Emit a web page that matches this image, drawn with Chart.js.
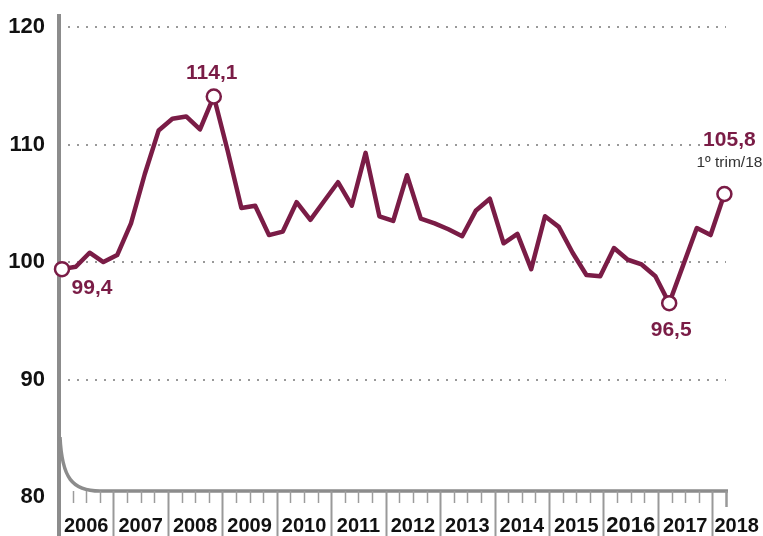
<!DOCTYPE html>
<html>
<head>
<meta charset="utf-8">
<script src="https://cdn.jsdelivr.net/npm/chart.js@4.4.1/dist/chart.umd.min.js"></script>
<style>
  html, body { margin: 0; padding: 0; background: #fff; }
  #wrap { width: 763px; height: 536px; position: relative; }
</style>
</head>
<body>
<div id="wrap"><canvas id="myChart"></canvas></div>
<script>
// trimestres 2006 T1 -> 2018 T1
var trimestres = [
  '1T06','2T06','3T06','4T06','1T07','2T07','3T07','4T07','1T08','2T08','3T08','4T08',
  '1T09','2T09','3T09','4T09','1T10','2T10','3T10','4T10','1T11','2T11','3T11','4T11',
  '1T12','2T12','3T12','4T12','1T13','2T13','3T13','4T13','1T14','2T14','3T14','4T14',
  '1T15','2T15','3T15','4T15','1T16','2T16','3T16','4T16','1T17','2T17','3T17','4T17','1T18'
];
var valores = [
  99.4, 99.6, 100.8, 100.0, 100.6, 103.3, 107.5, 111.2, 112.2, 112.4, 111.3, 114.1,
  109.5, 104.6, 104.8, 102.3, 102.6, 105.1, 103.6, 105.2, 106.8, 104.8, 109.3, 103.9,
  103.5, 107.4, 103.7, 103.3, 102.8, 102.2, 104.4, 105.4, 101.6, 102.4, 99.4, 103.9,
  103.0, 100.8, 98.9, 98.8, 101.2, 100.2, 99.8, 98.8, 96.5, 99.7, 102.9, 102.3, 105.8
];
var anos = ['2006','2007','2008','2009','2010','2011','2012','2013','2014','2015','2016','2017','2018'];
var ticksY = [80, 90, 100, 110, 120];
var destaques = [0, 11, 44, 48];
var rotulos = ['99,4', '114,1', '96,5', '105,8'];

var vinho = '#7a1c46';
var cinza = '#8c8c8c';
var fonte = "'Liberation Sans', Arial, sans-serif";

var pontos = [];
for (var i = 0; i < valores.length; i++) {
  pontos.push({x: i, y: valores[i]});
}

var decor = {
  id: 'decor',
  beforeDatasetsDraw: function(chart) {
    var ctx = chart.ctx, a = chart.chartArea, xq = chart.scales.xq;
    var base = a.bottom - 6;
    ctx.save();
    ctx.strokeStyle = cinza;
    ctx.lineWidth = 4;
    ctx.beginPath();
    ctx.moveTo(a.left, 14);
    ctx.lineTo(a.left, chart.height);
    ctx.stroke();
    // curva + linha de base
    ctx.lineWidth = 3.5;
    ctx.beginPath();
    ctx.moveTo(a.left + 1, base - 54);
    ctx.bezierCurveTo(a.left + 3, base - 13, a.left + 13, base, a.left + 41, base);
    ctx.lineTo(a.right + 2, base);
    ctx.stroke();
    // marcas dos trimestres
    for (var k = 1; k <= 49; k++) {
      var x = Math.round(xq.getPixelForValue(k)) + 0.5;
      ctx.beginPath();
      if (k == 49) {
        ctx.strokeStyle = '#999'; ctx.lineWidth = 2.5;
        ctx.moveTo(x, base); ctx.lineTo(x, base + 16);
      } else if (k % 4 == 0) {
        ctx.strokeStyle = '#999'; ctx.lineWidth = 2;
        ctx.moveTo(x, base); ctx.lineTo(x, chart.height);
      } else {
        ctx.strokeStyle = '#9c9c9c'; ctx.lineWidth = 1.5;
        ctx.moveTo(x, base); ctx.lineTo(x, base + 12);
      }
      ctx.stroke();
    }
    // anos
    ctx.fillStyle = '#111';
    ctx.textBaseline = 'middle';
    for (var j = 0; j < anos.length; j++) {
      var tam = anos[j] == '2016' ? 22 : 20;
      ctx.font = 'bold ' + tam + 'px ' + fonte;
      if (j == anos.length - 1) {
        ctx.textAlign = 'left';
        ctx.fillText(anos[j], xq.getPixelForValue(48) + 2, 526);
      } else {
        ctx.textAlign = 'center';
        ctx.fillText(anos[j], xq.getPixelForValue(4 * j + 2), 526);
      }
    }
    ctx.restore();
  },
  afterDatasetsDraw: function(chart) {
    var ctx = chart.ctx;
    var meta = chart.getDatasetMeta(0);
    var desloc = [[30, 19], [-2, -23], [2, 27], [5, -54]];
    ctx.save();
    ctx.textAlign = 'center';
    ctx.textBaseline = 'middle';
    ctx.font = 'bold 21px ' + fonte;
    for (var n = 0; n < destaques.length; n++) {
      var p = meta.data[destaques[n]];
      var tx = p.x + desloc[n][0], ty = p.y + desloc[n][1];
      if (n == 3) {
        var w = ctx.measureText(rotulos[n]).width;
        ctx.fillStyle = '#fff';
        ctx.fillRect(tx - w / 2 - 3, ty - 10, w + 6, 20);
      }
      ctx.fillStyle = vinho;
      ctx.fillText(rotulos[n], tx, ty);
    }
    var ult = meta.data[48];
    ctx.font = '15.5px ' + fonte;
    ctx.fillStyle = '#333';
    ctx.fillText('1\u00BA trim/18', ult.x + 5, ult.y - 31);
    ctx.restore();
  }
};

var canvas = document.getElementById('myChart');
var ctx = canvas.getContext('2d');
var grafico = new Chart(ctx, {
  type: 'line',
  data: {
    labels: trimestres,
    datasets: [{
      data: pontos,
      borderColor: vinho,
      borderWidth: 4.5,
      borderJoinStyle: 'round',
      tension: 0,
      clip: false,
      pointRadius: function(c) { return destaques.indexOf(c.dataIndex) >= 0 ? 7 : 0; },
      pointHoverRadius: 0,
      pointBackgroundColor: '#fff',
      pointBorderColor: vinho,
      pointBorderWidth: 2.5
    }]
  },
  options: {
    responsive: true,
    maintainAspectRatio: false,
    animation: false,
    events: [],
    layout: { padding: { left: 0, right: 37, top: 27, bottom: 39 } },
    plugins: { legend: { display: false }, tooltip: { enabled: false } },
    scales: {
      x: { type: 'linear', display: false, min: -0.217, max: 48.116 },
      xq: { type: 'linear', display: false, min: 0, max: 49, position: 'bottom' },
      y: {
        min: 80, max: 120,
        afterFit: function(s) { s.width = 59; },
        afterBuildTicks: function(s) { s.ticks = ticksY.map(function(v) { return {value: v}; }); },
        border: { display: false, dash: [2, 7] },
        grid: {
          drawTicks: false,
          lineWidth: 2,
          color: function(c) { return c.tick && c.tick.value == 80 ? 'rgba(0,0,0,0)' : '#999'; }
        },
        ticks: {
          padding: 14,
          color: '#111',
          font: { family: fonte, size: 22, weight: 'bold' }
        }
      }
    }
  },
  plugins: [decor]
});
</script>
</body>
</html>
